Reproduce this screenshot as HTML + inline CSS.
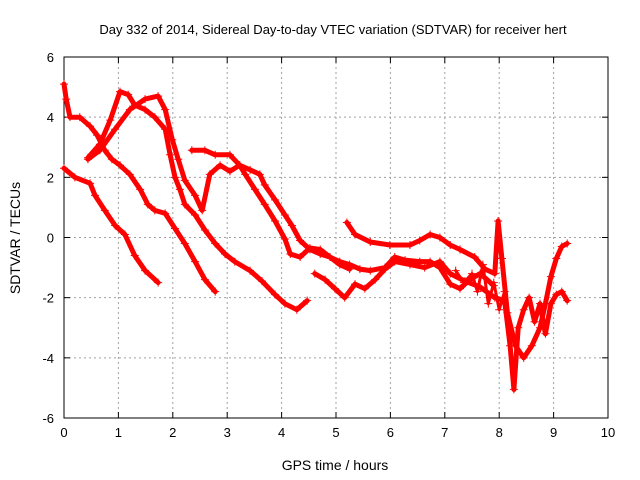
<!DOCTYPE html>
<html><head><meta charset="utf-8">
<style>
body{margin:0;background:#fff;}
svg{display:block;font-family:"Liberation Sans",sans-serif;}
</style></head>
<body>
<svg id="chart" width="640" height="480" xmlns="http://www.w3.org/2000/svg">
<rect width="640" height="480" fill="#fff"/>
<text x="333" y="34" font-size="13" text-anchor="middle">Day 332 of 2014, Sidereal Day-to-day VTEC variation (SDTVAR) for receiver hert</text>
<g id="grid"></g>
<g id="axes"></g>
<g id="series"></g>
<text x="335" y="470" font-size="14" text-anchor="middle">GPS time / hours</text>
<text x="20" y="238" font-size="14" text-anchor="middle" transform="rotate(-90 20 238)">SDTVAR / TECUs</text>
</svg>
<script>
const xTicks=[0,1,2,3,4,5,6,7,8,9,10];
const yTicks=[-6,-4,-2,0,2,4,6];
const trackA_t=[0,0.04,0.11,0.29,0.48,0.61,0.75,0.88,1.03,1.21,1.4,1.54,1.67,1.86,2.04,2.22,2.41,2.59,2.78];
const trackA_v=[5.1,4.6,4.0,4.0,3.7,3.4,2.9,2.6,2.4,2.1,1.6,1.1,0.9,0.8,0.3,-0.2,-0.8,-1.4,-1.8];
const trackB_t=[0,0.2,0.48,0.57,0.75,0.94,1.12,1.3,1.49,1.73];
const trackB_v=[2.3,2.0,1.8,1.4,0.9,0.4,0.1,-0.6,-1.1,-1.5];
const trackC_t=[0.44,0.66,0.85,1.03,1.18,1.3,1.49,1.67,1.86,1.95,2.04,2.13,2.22,2.41,2.59,2.78,2.96,3.14,3.42,3.64,3.88,4.06,4.28,4.47];
const trackC_v=[2.65,3.1,3.9,4.85,4.75,4.4,4.25,4.0,3.6,2.75,2.0,1.6,1.1,0.75,0.25,-0.2,-0.55,-0.8,-1.1,-1.45,-1.9,-2.2,-2.4,-2.1];
const trackD_t=[0.44,0.66,0.94,1.21,1.49,1.73,1.86,1.99,2.1,2.22,2.41,2.54,2.68,2.87,3.05,3.23,3.42,3.6,3.69,3.88,4.06,4.19,4.34,4.52,4.71,4.89,5.07,5.25];
const trackD_v=[2.6,2.9,3.6,4.25,4.6,4.7,4.25,3.25,2.6,1.9,1.4,0.9,2.1,2.4,2.2,2.4,2.25,2.1,1.75,1.25,0.75,0.4,-0.1,-0.4,-0.55,-0.65,-0.9,-1.05];
const trackE_t=[2.35,2.59,2.78,3.05,3.23,3.33,3.51,3.69,3.88,4.06,4.16,4.34,4.52,4.71,4.89,5.07,5.25,5.44,5.63,5.9,6.08,6.27,6.54,6.73,6.91,7.1,7.28,7.46,7.65,7.9];
const trackE_v=[2.9,2.9,2.75,2.75,2.4,2.1,1.6,1.1,0.55,-0.05,-0.55,-0.65,-0.35,-0.4,-0.65,-0.8,-0.9,-1.05,-1.1,-1.0,-0.65,-0.75,-0.8,-0.8,-1.0,-1.55,-1.7,-1.4,-1.2,-1.6];
const trackF_t=[5.2,5.35,5.63,5.99,6.36,6.54,6.73,6.91,7.1,7.28,7.55,7.74,7.92,7.98,8.05,8.15,8.3,8.45,8.6,8.75,8.85,8.95,9.05,9.15,9.25];
const trackF_v=[0.5,0.1,-0.15,-0.25,-0.25,-0.1,0.1,0.0,-0.25,-0.4,-0.65,-1.05,-1.2,0.55,-0.7,-2.5,-3.6,-4.0,-3.6,-3.0,-2.2,-1.3,-0.7,-0.3,-0.2];
const trackG_t=[4.61,4.8,4.98,5.16,5.35,5.53,5.72,5.9,6.08,6.36,6.63,6.91,7.1,7.37,7.65,7.92,8.1,8.2,8.27,8.35,8.45,8.55,8.65,8.75,8.85,8.95,9.05,9.15,9.25];
const trackG_v=[-1.2,-1.4,-1.7,-2.0,-1.55,-1.7,-1.4,-1.05,-0.8,-0.9,-1.0,-0.8,-1.2,-1.45,-1.65,-2.0,-2.1,-3.6,-5.05,-3.0,-2.4,-2.0,-2.8,-2.2,-3.2,-2.2,-1.9,-1.8,-2.1];
const trackH_t=[7.2,7.35,7.5,7.6,7.7,7.8,7.9,8.0,8.1];
const trackH_v=[-1.1,-1.5,-1.2,-1.8,-0.9,-2.2,-1.5,-2.4,-1.8];
const tracks=[[trackA_t,trackA_v],[trackB_t,trackB_v],[trackC_t,trackC_v],[trackD_t,trackD_v],[trackE_t,trackE_v],[trackF_t,trackF_v],[trackG_t,trackG_v],[trackH_t,trackH_v]];

const X0=64,X1=608,Y0=418,Y1=57;
const xs=t=>X0+(t-0)/(10-0)*(X1-X0);
const ys=v=>Y0-(v+6)/12*(Y0-Y1);
const NS="http://www.w3.org/2000/svg";
function mk(tag,attrs,parent){const e=document.createElementNS(NS,tag);for(const k in attrs)e.setAttribute(k,attrs[k]);parent.appendChild(e);return e;}
const grid=document.getElementById('grid'),axes=document.getElementById('axes'),series=document.getElementById('series');
xTicks.forEach(t=>{
  const x=xs(t);
  if(t>0&&t<10){const l=mk('line',{x1:x,y1:Y1,x2:x,y2:Y0,stroke:'#a0a0a0','stroke-dasharray':'2,3','stroke-width':1},grid);
  
  }
  mk('line',{x1:x,y1:Y0,x2:x,y2:Y0-6,stroke:'#000'},axes);
  mk('line',{x1:x,y1:Y1,x2:x,y2:Y1+6,stroke:'#000'},axes);
  const tx=mk('text',{x:x,y:Y0+19,'font-size':13,'text-anchor':'middle'},axes);
  tx.textContent=t;
  
  
});
yTicks.forEach(v=>{
  const y=ys(v);
  if(v>-6&&v<6){const l=mk('line',{x1:X0,y1:y,x2:X1,y2:y,stroke:'#a0a0a0','stroke-dasharray':'2,3','stroke-width':1},grid);
  
  }
  mk('line',{x1:X0,y1:y,x2:X0+6,y2:y,stroke:'#000'},axes);
  mk('line',{x1:X1,y1:y,x2:X1-6,y2:y,stroke:'#000'},axes);
  const tx=mk('text',{x:X0-10,y:y+5,'font-size':13,'text-anchor':'end'},axes);
  tx.textContent=v;
  
  
});
const frame=mk('rect',{x:X0,y:Y1,width:X1-X0,height:Y0-Y1,fill:'none',stroke:'#000'},axes);


tracks.forEach((tr,i)=>{
  const [T,V]=tr;
  const pts=T.map((t,j)=>xs(t).toFixed(1)+','+ys(V[j]).toFixed(1)).join(' ');
  const pl=mk('polyline',{points:pts,fill:'none',stroke:'#ff0000','stroke-width':i===7?3:5,'stroke-linejoin':'round','stroke-linecap':'round'},series);
  
  
  T.forEach((t,j)=>{
    const x=xs(t),y=ys(V[j]);
    const p=mk('path',{d:`M${x-4},${y}H${x+4}M${x},${y-4}V${y+4}`,stroke:'#ff0000','stroke-width':1},series);
    
    
  });
});
</script>
</body></html>
